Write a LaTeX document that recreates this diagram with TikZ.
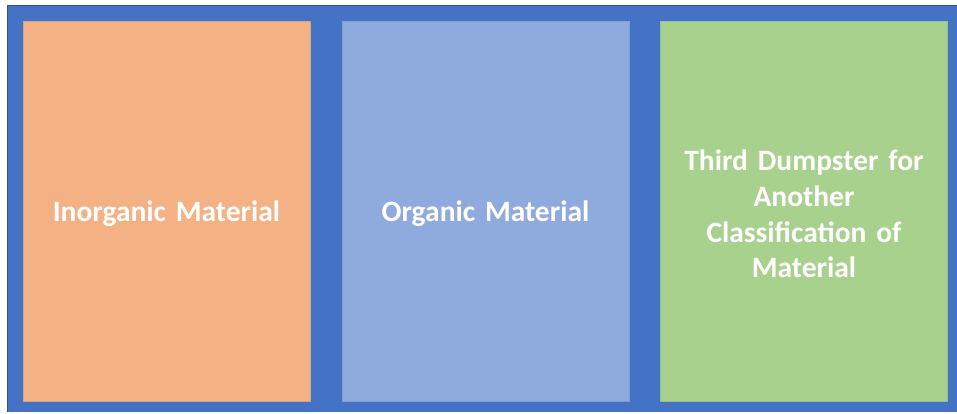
\documentclass[tikz,border=0pt]{standalone}
\usepackage{fontspec}
\setmainfont{Carlito}
\definecolor{frameblue}{HTML}{4472C4}
\definecolor{frameedge}{HTML}{2F528F}
\definecolor{binorange}{HTML}{F4B183}
\definecolor{binblue}{HTML}{8FAADC}
\definecolor{bingreen}{HTML}{A9D18E}
\tikzset{
  bin/.style={rectangle, minimum width=287pt, minimum height=380pt, inner sep=0pt,
    line width=0.8pt},
  binlabel/.style={inner sep=0pt, text=white, align=center, text width=250pt,
    font=\fontsize{29.5}{35.7}\selectfont\bfseries},
}
\begin{document}
\begin{tikzpicture}[x=1pt,y=-1pt]
  \useasboundingbox (0,0) rectangle (957,413);
  % container
  \fill[frameblue] (7,5) rectangle (957,412);
  \draw[frameedge, line width=1.2pt] (7.6,412) -- (7.6,5.6) -- (957,5.6);
  % the three bins
  \node[bin, fill=binorange, draw=binorange!80!frameblue] (inorganic) at (166.5,211) {};
  \node[bin, fill=binblue, draw=binblue!80!frameblue] (organic) at (485.5,211) {};
  \node[bin, fill=bingreen, draw=bingreen!80!frameblue] (third) at (804,211) {};
  % their labels, set a little below centre
  \node[binlabel, yshift=-3pt] (inorganiclabel) at (inorganic.center) {Inorganic Material};
  \node[binlabel, yshift=-3pt] (organiclabel) at (organic.center) {Organic Material};
  \node[binlabel, yshift=-3pt] (thirdlabel) at (third.center) {Third Dumpster for\\Another\\Classification of\\Material};
\end{tikzpicture}
\end{document}
